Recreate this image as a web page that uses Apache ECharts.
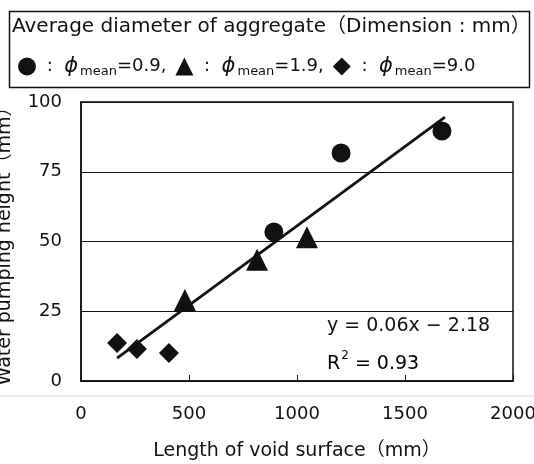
<!DOCTYPE html>
<html><head><meta charset="utf-8">
<script src="https://cdn.jsdelivr.net/npm/echarts@6/dist/echarts.min.js"></script>
<style>html,body{margin:0;padding:0;background:#fff}#c{width:534px;height:464px}</style>
</head><body><div id="c"></div>
<script>
const circleData = [[893, 53.4], [1204, 81.7], [1671, 89.6]];
const triangleData = [[481, 29], [815, 43.5], [1046, 51.5]];
const diamondData = [[167, 13.6], [259, 11.5], [407, 10]];
const trendLine = [[167, 8.2], [1685, 94.6]];
const xTicks = [0, 500, 1000, 1500, 2000];
const yTicks = [0, 25, 50, 75, 100];
const legendNames = ['0.9', '1.9', '9.0'];

const FONT = '"DejaVu Sans", "Noto Sans CJK JP", sans-serif';
const INK = '#111111';
const chart = echarts.init(document.getElementById('c'), null, {renderer: 'canvas'});
const rich = {
  a: {fontSize: 18, fontFamily: FONT, color: INK},
  p: {fontSize: 21, fontFamily: FONT, color: INK, fontStyle: 'italic'},
  s: {fontSize: 13, fontFamily: FONT, color: INK, verticalAlign: 'bottom', padding: [10, 0, 0, 2]}
};
chart.setOption({
  animation: false,
  backgroundColor: '#fff',
  textStyle: {fontFamily: FONT},
  grid: {left: 81, right: 21, top: 102, bottom: 83, show: true, borderColor: INK, borderWidth: 1.5,
         containLabel: false, outerBoundsMode: 'none'},
  legend: {
    left: 13, top: 51, itemWidth: 18, itemHeight: 18, itemGap: 9,
    data: [
      {name: legendNames[0], icon: 'circle'},
      {name: legendNames[1], icon: 'triangle'},
      {name: legendNames[2], icon: 'diamond'}
    ],
    formatter: n => '{a| :  }{p|ϕ}{s|mean}{a|=' + n + (n === legendNames[2] ? '' : ',') + '}',
    textStyle: {rich: rich, color: INK, fontSize: 18}
  },
  graphic: [
    {type: 'rect', left: 7, top: 9, shape: {width: 520, height: 76}, style: {fill: 'none', stroke: INK, lineWidth: 1.5}},
    {type: 'text', left: 12, top: 17, style: {text: 'Average diameter of aggregate（Dimension : mm）', font: '20px ' + FONT, fill: INK}},
    {type: 'line', shape: {x1: 0, y1: 396, x2: 534, y2: 396}, style: {stroke: '#d8d8d8', lineWidth: 1}},
    {type: 'text', left: 327, top: 317, style: {text: 'y = 0.06x − 2.18', font: '19px ' + FONT, fill: INK}},
    {type: 'text', left: 327, top: 350, style: {
      text: '{r|R}{sup|2}{r| = 0.93}',
      rich: {r: {fontSize: 19, fontFamily: FONT, color: INK, verticalAlign: 'bottom'},
             sup: {fontSize: 12, fontFamily: FONT, color: INK, verticalAlign: 'top', padding: [0, 0, 12, 1]}}
    }}
  ],
  xAxis: {
    type: 'value', min: xTicks[0], max: xTicks[xTicks.length - 1], interval: 500,
    name: 'Length of void surface（mm）', nameLocation: 'middle', nameGap: 61,
    nameTextStyle: {fontSize: 19, color: INK, fontFamily: FONT},
    axisLine: {show: true, lineStyle: {color: INK, width: 1.5}},
    axisTick: {show: true, inside: true, length: 6, lineStyle: {color: INK}},
    axisLabel: {fontSize: 18, color: INK, margin: 24, fontFamily: FONT, formatter: v => String(v)},
    splitLine: {show: false}
  },
  yAxis: {
    type: 'value', min: yTicks[0], max: yTicks[yTicks.length - 1], interval: 25,
    name: 'Water pumping height（mm）', nameLocation: 'middle', nameGap: 66, nameRotate: 90,
    nameTextStyle: {fontSize: 19, color: INK, fontFamily: FONT},
    axisLine: {show: true, lineStyle: {color: INK, width: 1.5}},
    axisTick: {show: false},
    axisLabel: {fontSize: 18, color: INK, margin: 19, fontFamily: FONT, formatter: v => String(v)},
    splitLine: {show: true, lineStyle: {color: INK, width: 1}}
  },
  series: [
    {name: legendNames[0], type: 'scatter', symbol: 'circle', symbolSize: 19, data: circleData, itemStyle: {color: INK, opacity: 1}, z: 3},
    {name: legendNames[1], type: 'scatter', symbol: 'triangle', symbolSize: 22, data: triangleData, itemStyle: {color: INK, opacity: 1}, z: 3},
    {name: legendNames[2], type: 'scatter', symbol: 'diamond', symbolSize: 20, data: diamondData, itemStyle: {color: INK, opacity: 1}, z: 3},
    {name: 'trend', type: 'line', data: trendLine, symbol: 'none', lineStyle: {color: INK, width: 2.8}, z: 4}
  ]
});
</script></body></html>
